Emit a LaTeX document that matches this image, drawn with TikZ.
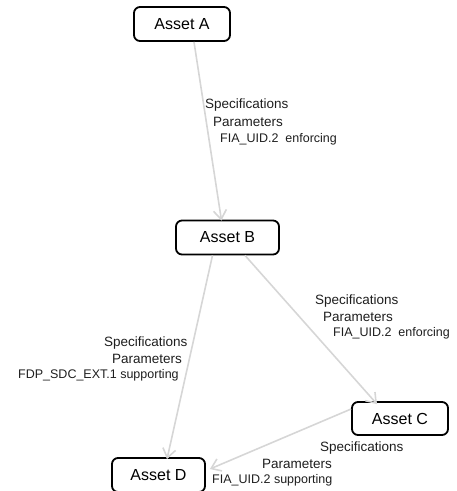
\documentclass[tikz,border=0pt]{standalone}
\usepackage{fontspec}
\setmainfont{Liberation Sans}
\usetikzlibrary{arrows.meta}
\definecolor{linkgray}{HTML}{D6D6D6}
\definecolor{labelink}{HTML}{1E1E1E}
\begin{document}
\begin{tikzpicture}[x=1pt,y=-1pt,
  asset/.style={draw=black, line width=1.8pt, rounded corners=6pt, fill=white,
    minimum height=34pt, inner sep=0pt, font=\fontsize{16}{18}\selectfont},
  link/.style={draw=linkgray, line width=1.6pt,
    -{Straight Barb[length=9pt,width=13pt,line width=1.6pt]}},
  lbl/.style={anchor=west, inner sep=0pt, text=labelink, font=\fontsize{13.5}{15}\selectfont},
  lblid/.style={lbl, font=\fontsize{12.5}{15}\selectfont}]
\useasboundingbox (0,0) rectangle (457,491);

% asset boxes
\node[asset, minimum width=96pt] (A) at (182,24) {Asset A};
\node[asset, minimum width=103pt] (B) at (227.5,237.5) {Asset B};
\node[asset, minimum width=96pt, minimum height=33pt] (C) at (400,418.5) {Asset C};
\node[asset, minimum width=93pt, minimum height=34pt] (D) at (158.5,475) {Asset D};

% connectors
\draw[link] ([xshift=12pt]A.south) -- ([xshift=-6pt,yshift=-1pt]B.north);
\draw[link] ([xshift=-15pt]B.south) -- ([xshift=8.5pt,yshift=-2pt]D.north);
\draw[link] ([xshift=17.5pt]B.south) -- ([xshift=-23pt,yshift=-3pt]C.north);
\draw[link] ([yshift=9.5pt]C.west) -- ([xshift=4pt,yshift=6pt]D.east);

% label A -> B
\node[lbl] (ab1) at (205,105) {Specifications};
\node[lbl] (ab2) at (213,122) {Parameters};
\node[lblid] (ab3) at (220,139) {FIA\_UID.2\ \ enforcing};

% label B -> C
\node[lbl] (bc1) at (315,301) {Specifications};
\node[lbl] (bc2) at (323,317) {Parameters};
\node[lblid] (bc3) at (333,333) {FIA\_UID.2\ \ enforcing};

% label B -> D
\node[lbl] (bd1) at (104,343) {Specifications};
\node[lbl] (bd2) at (112,359) {Parameters};
\node[lblid] (bd3) at (18,375) {FDP\_SDC\_EXT.1 supporting};

% label C -> D
\node[lbl] (cd1) at (320,448) {Specifications};
\node[lbl] (cd2) at (262,464) {Parameters};
\node[lblid] (cd3) at (212,480) {FIA\_UID.2 supporting};
\end{tikzpicture}
\end{document}
